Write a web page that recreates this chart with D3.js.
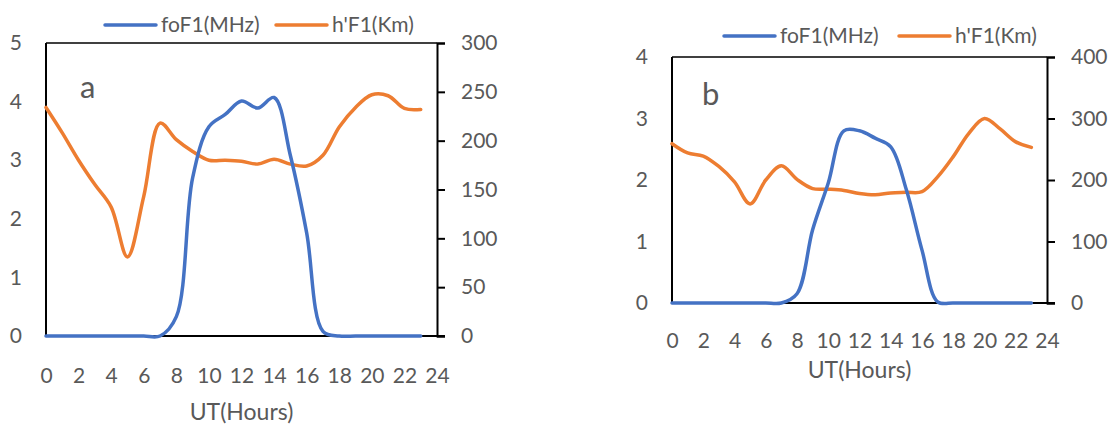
<!DOCTYPE html>
<html>
<head>
<meta charset="utf-8">
<script src="https://cdn.jsdelivr.net/npm/d3@7"></script>
<style>
  html, body { margin: 0; padding: 0; background: #fff; }
  svg text { font-family: Lato, "Open Sans", sans-serif; fill: #595959; }
</style>
</head>
<body>
<svg id="chart" width="1113" height="424"></svg>
<script>
// Hours of the day (UT)
const hours = d3.range(0, 24);
const xTicks = d3.range(0, 25, 2);

// Panel a
const fofA = [0, 0, 0, 0, 0, 0, 0, 0, 0.33, 2.7, 3.57, 3.78, 4.01, 3.89, 4.07, 3.08, 1.76, 0.08, 0, 0, 0, 0, 0, 0];
const hA   = [234, 208, 180, 155, 132, 81, 143, 218, 201, 189, 180, 180, 179, 176, 181, 176, 174, 185, 214, 234, 247, 246, 233, 232];
const leftTicksA  = [0, 1, 2, 3, 4, 5];
const rightTicksA = [0, 50, 100, 150, 200, 250, 300];

// Panel b
const fofB = [0, 0, 0, 0, 0, 0, 0, 0, 0.15, 1.19, 1.95, 2.8, 2.8, 2.68, 2.54, 1.84, 0.86, 0.02, 0, 0, 0, 0, 0, 0];
const hB   = [259, 244, 239, 222, 197, 161, 200, 223, 201, 186, 185, 183, 178, 176, 179, 180, 181, 205, 238, 276, 300, 283, 262, 253];
const leftTicksB  = [0, 1, 2, 3, 4];
const rightTicksB = [0, 100, 200, 300, 400];

const seriesNames = ["foF1(MHz)", "h'F1(Km)"];
const blue = "#4472C4", orange = "#ED7D31";
const FONT = "Lato, 'Open Sans', sans-serif";
const TICK_SIZE = 21;

const svg = d3.select("#chart");

function styleTicks(sel) {
  sel.selectAll(".tick text").attr("font-size", TICK_SIZE).attr("fill", "#595959").attr("font-family", FONT);
}

function drawPanel(p) {
  const g = svg.append("g");
  const x = d3.scaleLinear().domain([0, 24]).range([p.left, p.right]);
  const yL = d3.scaleLinear().domain([0, d3.max(p.leftTicks)]).range([p.bottom, p.top]);
  const yR = d3.scaleLinear().domain([0, d3.max(p.rightTicks)]).range([p.bottom, p.top]);

  // frame: top and left edges
  g.append("line").attr("x1", p.left).attr("x2", p.right).attr("y1", p.top).attr("y2", p.top)
    .attr("stroke", "#000").attr("stroke-width", 1.5);
  g.append("line").attr("x1", p.left).attr("x2", p.left).attr("y1", p.top).attr("y2", p.bottom)
    .attr("stroke", "#000").attr("stroke-width", 2);

  // right axis with outward ticks
  const right = g.append("g").attr("transform", `translate(${p.right},0)`)
    .call(d3.axisRight(yR).tickValues(p.rightTicks).tickFormat(d3.format("d")).tickSize(8).tickPadding(16));
  right.select(".domain").attr("stroke", "#000").attr("stroke-width", 2);
  right.selectAll(".tick line").attr("stroke", "#000").attr("stroke-width", 2);
  styleTicks(right);

  // left axis labels
  const left = g.append("g").attr("transform", `translate(${p.left},0)`)
    .call(d3.axisLeft(yL).tickValues(p.leftTicks).tickFormat(d3.format("d")).tickSize(0).tickPadding(p.leftPad));
  left.select(".domain").remove();
  styleTicks(left);

  // bottom axis
  const bottom = g.append("g").attr("transform", `translate(0,${p.bottom})`)
    .call(d3.axisBottom(x).tickValues(xTicks).tickFormat(d3.format("d")).tickSize(0).tickPadding(p.xPad));
  bottom.select(".domain").remove();
  styleTicks(bottom);
  g.append("line").attr("x1", p.left).attr("x2", p.right + 8).attr("y1", p.bottom).attr("y2", p.bottom)
    .attr("stroke", "#000").attr("stroke-width", 2);

  // series lines
  const lineL = d3.line().x((d, i) => x(hours[i])).y(d => yL(d)).curve(d3.curveCatmullRom.alpha(0.5));
  const lineR = d3.line().x((d, i) => x(hours[i])).y(d => yR(d)).curve(d3.curveCatmullRom.alpha(0.5));
  g.append("path").datum(p.hp).attr("d", lineR).attr("fill", "none")
    .attr("stroke", orange).attr("stroke-width", 3.5).attr("stroke-linecap", "round").attr("stroke-linejoin", "round");
  g.append("path").datum(p.fo).attr("d", lineL).attr("fill", "none")
    .attr("stroke", blue).attr("stroke-width", 3.5).attr("stroke-linecap", "round").attr("stroke-linejoin", "round");

  // panel letter
  g.append("text").attr("x", p.letterX).attr("y", p.letterY).attr("font-size", 31).text(p.letter);

  // x-axis title
  g.append("text").attr("x", (p.left + p.right) / 2).attr("y", p.titleY)
    .attr("text-anchor", "middle").attr("font-size", 23).text("UT(Hours)");

  // legend
  const lg = g.append("g");
  [blue, orange].forEach((c, i) => {
    const lx = p.legendX[i];
    lg.append("line").attr("x1", lx).attr("x2", lx + 51).attr("y1", p.legendY).attr("y2", p.legendY)
      .attr("stroke", c).attr("stroke-width", 3.5).attr("stroke-linecap", "round");
    lg.append("text").attr("x", lx + 56).attr("y", p.legendY + 7).attr("font-size", 21).text(seriesNames[i]);
  });
}

drawPanel({
  left: 46, right: 437, top: 43, bottom: 336,
  leftTicks: leftTicksA, rightTicks: rightTicksA, leftPad: 24, xPad: 32,
  fo: fofA, hp: hA, letter: "a", letterX: 80, letterY: 98, titleY: 420,
  legendX: [105, 276], legendY: 25
});

drawPanel({
  left: 672, right: 1047, top: 57, bottom: 303,
  leftTicks: leftTicksB, rightTicks: rightTicksB, leftPad: 24, xPad: 30,
  fo: fofB, hp: hB, letter: "b", letterX: 702, letterY: 105, titleY: 378,
  legendX: [724, 899], legendY: 36
});
</script>
</body>
</html>
